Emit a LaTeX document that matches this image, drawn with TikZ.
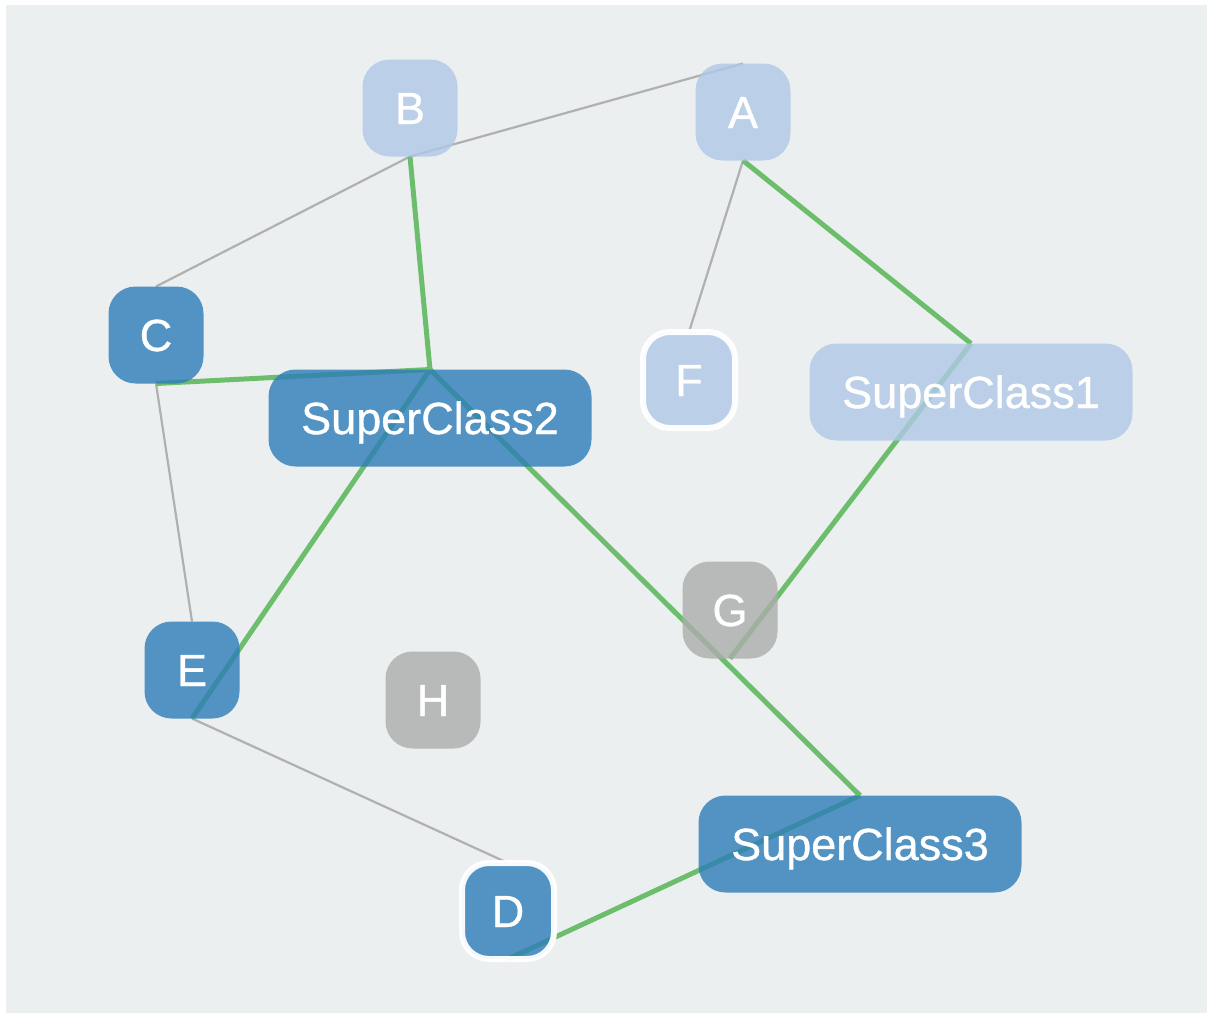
\documentclass[tikz,border=0pt]{standalone}
\usepackage{fontspec}
\setmainfont{Liberation Sans}
\newfontfamily\labelfont{Liberation Sans}[FakeBold=0.8]
\definecolor{canvas}{RGB}{236,239,240}
\definecolor{nodeblue}{RGB}{44,125,184}
\definecolor{nodelight}{RGB}{176,200,230}
\definecolor{nodegrey}{RGB}{172,173,172}
\definecolor{linkgrey}{RGB}{176,176,176}
\definecolor{tiegreen}{RGB}{108,190,108}
\pgfdeclarelayer{paper}
\pgfdeclarelayer{edges}
\pgfsetlayers{paper,edges,main}
\begin{document}
\begin{tikzpicture}[x=1pt,y=-1pt,
  box/.style={rounded corners=27pt, minimum width=95pt, minimum height=97pt,
    inner sep=0pt, outer sep=0pt, text=white, fill opacity=0.8,
    draw opacity=0.95, text opacity=1,
    font=\labelfont\fontsize{45}{54}\selectfont,
    text height=32pt, text depth=0pt},
  wide/.style={minimum width=323pt},
  dark/.style={fill=nodeblue},
  light/.style={fill=nodelight},
  grey/.style={fill=nodegrey},
  ring/.style={draw=white, line width=6pt, minimum width=92pt, minimum height=96pt},
  link/.style={line width=2.2pt, draw=linkgrey},
  tie/.style={line width=5pt, draw=tiegreen}]
\useasboundingbox (0,0) rectangle (1211,1015);
\begin{pgfonlayer}{paper}
  \fill[white] (0,0) rectangle (1211,1015);
  \fill[canvas] (6,5) rectangle (1207,1013);
\end{pgfonlayer}

% class nodes
\node[box, light] (B) at (410,108) {B};
\node[box, light] (A) at (743,112) {A};
\node[box, dark] (C) at (156,335) {C};
\node[box, dark, wide] (S2) at (430,418) {SuperClass2};
\node[box, light, ring] (F) at (689,380) {F};
\node[box, light, wide] (S1) at (971,392) {SuperClass1};
\node[box, grey] (G) at (730,610) {G};
\node[box, dark] (E) at (192,670) {E};
\node[box, grey] (H) at (433,700) {H};
\node[box, dark, wide] (S3) at (860,844) {SuperClass3};
\node[box, dark, ring] (D) at (508,911) {D};

% connectors, drawn beneath the nodes
\begin{pgfonlayer}{edges}
  \draw[link] (A.north) -- (B.south) -- (C.north);
  \draw[link] (C.south) -- (E.north);
  \draw[link] (E.south) -- (D.north);
  \draw[link] (A.south) -- (F.north);
  \draw[tie] (B.south) -- (S2.north);
  \draw[tie] (C.south) -- (S2.north);
  \draw[tie] (S2.north) -- (E.south);
  \draw[tie] (S2.north) -- (S3.north);
  \draw[tie] (D.south) -- (S3.north);
  \draw[tie] (A.south) -- (S1.north);
  \draw[tie] (S1.north) -- (G.south);
\end{pgfonlayer}
\end{tikzpicture}
\end{document}
